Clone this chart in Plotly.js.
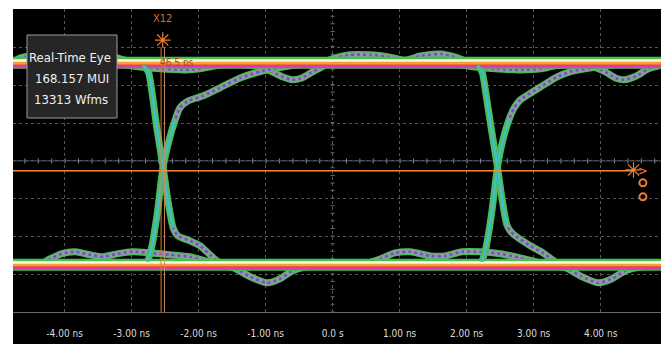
<!DOCTYPE html>
<html><head><meta charset="utf-8">
<script src="https://cdn.plot.ly/plotly-3.0.1.min.js"></script>
<style>
html,body{margin:0;padding:0;background:#fff;width:661px;height:344px;overflow:hidden}
#chart{position:absolute;left:13px;top:9px;width:648px;height:335px}
</style></head>
<body><div id="chart"></div>
<script>
// ---- axis ticks (ns) ----
const tickVals = [-4, -3, -2, -1, 0, 1, 2, 3, 4];
const tickText = ['-4.00 ns', '-3.00 ns', '-2.00 ns', '-1.00 ns', '0.0 s', '1.00 ns', '2.00 ns', '3.00 ns', '4.00 ns'];

// ---- steady levels (divisions) ----
const highLevel = 2.59;
const lowLevel = -2.74;

// ---- edges around first crossing (time in ns, amplitude in div) ----
const tRise1 = [-3.17, -2.87, -2.77, -2.71, -2.62, -2.53, -2.44, -2.35, -2.28, -2.16, -1.93, -1.68, -1.38, -1.05, -0.63, -0.19, 0.19];
const vRise1 = [-2.74, -2.74, -2.66, -2.35, -1.42, -0.16, 0.55, 1.08, 1.40, 1.58, 1.72, 1.93, 2.19, 2.37, 2.51, 2.59, 2.61];
const tFall1 = [-3.32, -2.95, -2.83, -2.75, -2.69, -2.62, -2.53, -2.46, -2.38, -2.31, -2.13, -1.98, -1.83, -1.71, -1.46, -1.08];
const vFall1 = [2.59, 2.56, 2.51, 2.35, 1.74, 0.82, -0.16, -1.03, -1.77, -1.98, -2.11, -2.24, -2.48, -2.66, -2.77, -2.77];

// ---- edges around second crossing ----
const tRise2 = [1.83, 2.13, 2.22, 2.28, 2.37, 2.46, 2.54, 2.63, 2.71, 2.80, 3.10, 3.35, 3.54, 3.84, 4.14, 4.59, 4.90];
const vRise2 = [-2.74, -2.74, -2.66, -2.35, -1.42, -0.16, 0.55, 1.08, 1.40, 1.61, 1.95, 2.22, 2.35, 2.45, 2.53, 2.59, 2.59];
const tFall2 = [1.68, 2.05, 2.16, 2.23, 2.29, 2.37, 2.46, 2.53, 2.60, 2.66, 2.75, 2.95, 3.14, 3.35, 3.62, 3.99];
const vFall2 = [2.59, 2.56, 2.51, 2.35, 1.74, 0.82, -0.16, -1.03, -1.69, -1.87, -2.01, -2.24, -2.43, -2.69, -2.77, -2.77];

// ---- ISI ripple waveforms ----
const tTopDip = [-4.77, -1.53, -1.16, -0.93, -0.75, -0.60, -0.46, -0.28, -0.10, 0.19, 3.40, 3.84, 4.07, 4.22, 4.35, 4.53, 4.71, 4.90];
const vTopDip = [2.59, 2.56, 2.51, 2.37, 2.22, 2.14, 2.19, 2.37, 2.53, 2.59, 2.59, 2.51, 2.35, 2.19, 2.14, 2.24, 2.43, 2.53];
const tTopBump = [-4.77, -4.66, -4.44, -4.14, -3.84, -3.54, -3.32, -3.10, -2.87, -0.19, 0.04, 0.26, 0.56, 0.86, 1.08, 1.31, 1.61, 1.83, 2.05, 4.90];
const vTopBump = [2.61, 2.72, 2.77, 2.72, 2.64, 2.74, 2.77, 2.66, 2.59, 2.59, 2.72, 2.80, 2.80, 2.74, 2.66, 2.77, 2.82, 2.74, 2.61, 2.59];
const tTopUnder = [-3.17, -2.87, -2.57, -2.20, -1.98, -1.75, -1.45, null, 1.83, 2.13, 2.43, 2.80, 3.10, 3.32, 3.62];
const vTopUnder = [2.56, 2.48, 2.43, 2.40, 2.43, 2.51, 2.56, null, 2.56, 2.48, 2.43, 2.40, 2.43, 2.51, 2.56];
const tBotBump = [-4.77, -4.37, -4.22, -4.04, -3.84, -3.62, -3.42, -3.20, -2.99, -2.72, -2.43, -2.13, -1.90, -1.68, 0.41, 0.71, 0.93, 1.16, 1.46, 1.68, 1.93, 2.20, 2.50, 2.80, 3.17, 3.40, 4.90];
const vBotBump = [-2.74, -2.72, -2.59, -2.45, -2.40, -2.48, -2.53, -2.45, -2.40, -2.43, -2.48, -2.53, -2.64, -2.74, -2.74, -2.59, -2.43, -2.40, -2.51, -2.51, -2.40, -2.40, -2.45, -2.56, -2.72, -2.77, -2.77];
const tBotDip = [-4.77, -1.75, -1.49, -1.23, -0.98, -0.78, -0.60, -0.41, -0.04, 3.17, 3.47, 3.72, 3.96, 4.17, 4.37, 4.59, 4.90];
const vBotDip = [-2.77, -2.77, -2.82, -3.06, -3.22, -3.11, -2.90, -2.80, -2.77, -2.77, -2.82, -3.06, -3.22, -3.11, -2.90, -2.80, -2.77];

// ---- cursors ----
const cursorX1 = -2.56, cursorX2 = -2.51, cursorY = -0.26;
const deltaLabel = '46.5 ps';
const infoLines = ['Real-Time Eye', '168.157 MUI', '13313 Wfms'];

const FONT = "'Liberation Sans Narrow', 'Arial Narrow', 'DejaVu Sans Condensed', sans-serif";
const ORANGE = '#ee7d2e';
const xRange = [-4.77, 4.90];

const traces = [];
function line(x, y, color, width, dash, smooth) {
  traces.push({x: x, y: y, mode: 'lines', hoverinfo: 'skip', showlegend: false, connectgaps: false,
    line: {color: color, width: width, dash: dash || 'solid', shape: smooth === false ? 'linear' : 'spline', smoothing: 0.6}});
}
function dottedWave(x, y) {
  line(x, y, '#45c050', 7);
  line(x, y, '#9696a4', 4.5);
  line(x, y, '#7050c8', 2.5, 'dot');
}
// ripple & tails
[[tTopDip, vTopDip], [tTopBump, vTopBump], [tTopUnder, vTopUnder], [tBotBump, vBotBump], [tBotDip, vBotDip],
 [tRise1, vRise1], [tFall1, vFall1], [tRise2, vRise2], [tFall2, vFall2]].forEach(p => dottedWave(p[0], p[1]));

// steady bands
function band(level) {
  const x = xRange.slice();
  line(x, [level, level], '#45c24c', 12, null, false);
  line(x, [level - 0.09, level - 0.09], '#d23fd0', 4, null, false);
  line(x, [level - 0.04, level - 0.04], '#e84444', 4, null, false);
  line(x, [level + 0.01, level + 0.01], '#f5a030', 4, null, false);
  line(x, [level + 0.06, level + 0.06], '#eef070', 3, null, false);
  line(x, [level + 0.06, level + 0.06], '#fffbe6', 1.2, null, false);
}
band(highLevel);
band(lowLevel);

// steep parts of the edges
function steep(t, v, a, b) {
  line(t.slice(a, b + 1), v.slice(a, b + 1), '#45c050', 4);
  line(t.slice(a, b + 1), v.slice(a, b + 1), '#3cc0cc', 2.4);
}
steep(tRise1, vRise1, 2, 7);
steep(tFall1, vFall1, 2, 8);
steep(tRise2, vRise2, 2, 7);
steep(tFall2, vFall2, 2, 8);

// cursor markers
traces.push({x: [(cursorX1 + cursorX2) / 2, 4.49], y: [3.19, cursorY + 0.02], mode: 'markers', hoverinfo: 'skip', showlegend: false,
  marker: {symbol: 'asterisk-open', size: 13, color: ORANGE, line: {color: ORANGE, width: 1.2}}});
traces.push({x: [4.63, 4.63], y: [-0.58, -0.95], mode: 'markers', hoverinfo: 'skip', showlegend: false,
  marker: {symbol: 'circle-open', size: 7, color: ORANGE, line: {color: ORANGE, width: 2}}});

const pxX = v => (v - 13) / 648;        // page px -> paper x
const pxY = v => (312 - v) / 303;       // page px -> paper y

function note(x, y, text, size, color, xref, yref) {
  return {xref: xref || 'paper', yref: yref || 'paper', x: x, y: y, text: text, showarrow: false,
    xanchor: 'center', yanchor: 'middle', font: {family: FONT, size: size, color: color}};
}

const layout = {
  width: 648, height: 335,
  margin: {l: 0, r: 0, t: 0, b: 32},
  paper_bgcolor: '#000', plot_bgcolor: '#000',
  showlegend: false,
  xaxis: {range: xRange, tickvals: tickVals, ticktext: tickText, showgrid: true, gridcolor: '#555', griddash: 'dot', gridwidth: 1,
    zeroline: false, showline: true, linecolor: '#6a6a6a', linewidth: 1, ticks: '', ticklabelstandoff: 12,
    tickfont: {family: FONT, size: 10, color: '#dcdcdc'}, fixedrange: true},
  yaxis: {range: [-3.99, 4.01], dtick: 1, tick0: 0, showgrid: true, gridcolor: '#555', griddash: 'dot', gridwidth: 1,
    zeroline: false, showticklabels: false, ticks: '', fixedrange: true},
  shapes: [
    {type: 'line', xref: 'x', yref: 'y', x0: -4.8, x1: 4.9, y0: 0, y1: 0, layer: 'below', line: {color: '#4a5864', width: 1}},
    {type: 'line', xref: 'x', yref: 'y', x0: -4.8, x1: 4.9, y0: 0, y1: 0, layer: 'below', line: {color: '#7a8894', width: 5, dash: '1px,12.4px'}},
    {type: 'line', xref: 'x', yref: 'y', x0: 0, x1: 0, y0: -4, y1: 4.01, layer: 'below', line: {color: '#6a6a6a', width: 4, dash: '1px,6.58px'}},
    {type: 'line', xref: 'x', yref: 'y', x0: cursorX1, x1: cursorX1, y0: -4, y1: 3.0, layer: 'above', line: {color: '#e07a30', width: 1}},
    {type: 'line', xref: 'x', yref: 'y', x0: cursorX2, x1: cursorX2, y0: -4, y1: 3.0, layer: 'above', line: {color: '#c98a60', width: 1}},
    {type: 'line', xref: 'x', yref: 'y', x0: -4.8, x1: 4.5, y0: cursorY, y1: cursorY, layer: 'above', line: {color: '#f08a40', width: 1.5}},
    {type: 'rect', xref: 'paper', yref: 'paper', x0: pxX(27), x1: pxX(117), y0: pxY(118), y1: pxY(35), layer: 'above',
      fillcolor: '#262626', line: {color: '#9a9a9a', width: 1}}
  ],
  annotations: [
    note((cursorX1 + cursorX2) / 2, 3.77, 'X12', 11, '#d8702a', 'x', 'y'),
    note(-2.33, 2.61, deltaLabel, 10, '#a8501a', 'x', 'y'),
    note(4.63, cursorY, '>', 13, ORANGE, 'x', 'y'),
    note(pxX(70), pxY(57), infoLines[0], 13, '#f0f0f0'),
    note(pxX(72), pxY(78), infoLines[1], 13, '#f0f0f0'),
    note(pxX(71), pxY(100), infoLines[2], 13, '#f0f0f0')
  ]
};
Plotly.newPlot('chart', traces, layout, {staticPlot: true, displayModeBar: false});
</script></body></html>
